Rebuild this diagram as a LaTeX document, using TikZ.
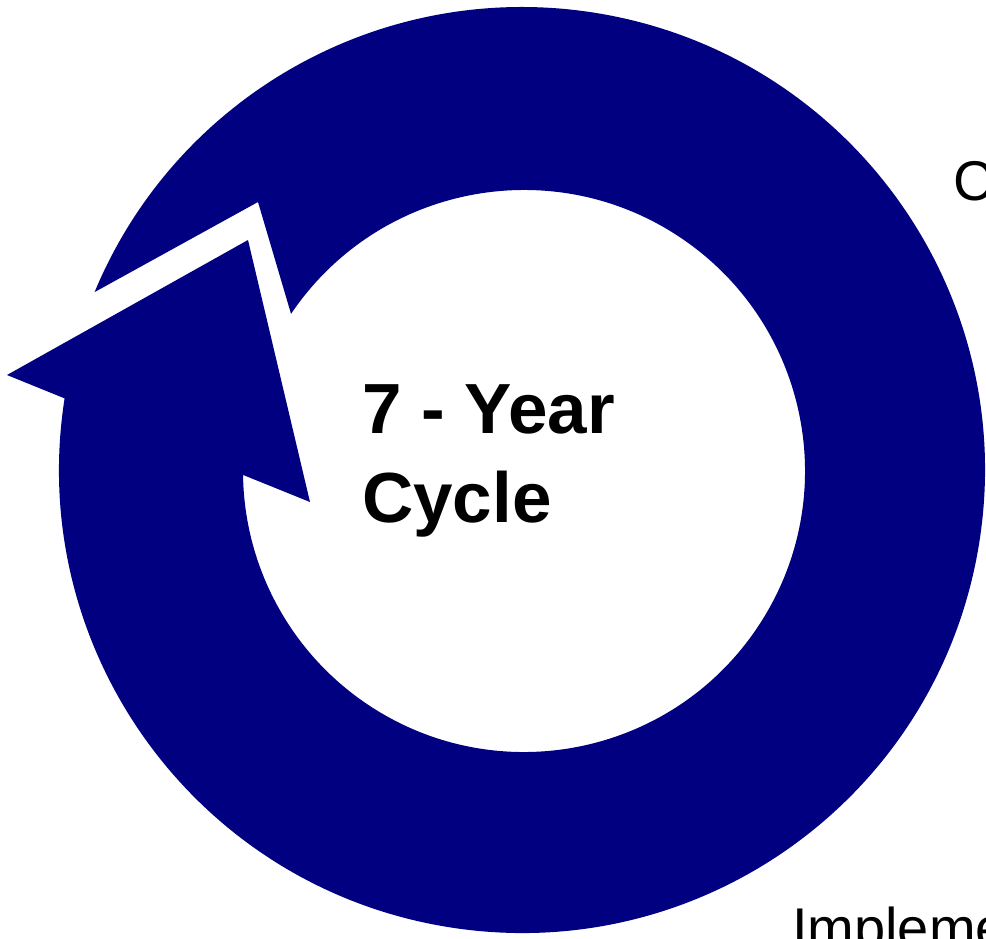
\documentclass[tikz,border=0pt]{standalone}
\usepackage{fontspec}
\setmainfont{Liberation Sans}
\definecolor{ringblue}{RGB}{0,0,128}
\begin{document}
\begin{tikzpicture}[x=1pt,y=-1pt,
  ringfill/.style={fill=ringblue,draw=none},
  titletext/.style={font=\fontsize{71}{89}\selectfont\bfseries,inner sep=0pt,align=left,anchor=base west},
  sidetext/.style={font=\fontsize{56}{67}\selectfont,inner sep=0pt,anchor=base west}]
\useasboundingbox (0,0) rectangle (986,938);
\clip (0,0) rectangle (986,938);
\coordinate (oc) at (522,470);
\coordinate (ic) at (524,471);
\coordinate (tip) at (7,375);
\coordinate (headtop) at (248,240);
\coordinate (headin) at (310,502);
\coordinate (notch) at (258,202);
\fill[ringfill]
  (tip) -- ([shift={(oc)}]188.9:463)
  arc[start angle=188.9, end angle=-157.4, radius=463]
  -- (notch)
  -- ([shift={(ic)}]-146.0:281)
  arc[start angle=-146.0, end angle=179.2, radius=281]
  -- (headin) -- (headtop) -- cycle;
\node[titletext] (title) at (362,522) {7 - Year\\Cycle};
\node[sidetext] (topright) at (953,200) {C};
\node[sidetext] (bottom) at (792,947) {Impleme};
\end{tikzpicture}
\end{document}
